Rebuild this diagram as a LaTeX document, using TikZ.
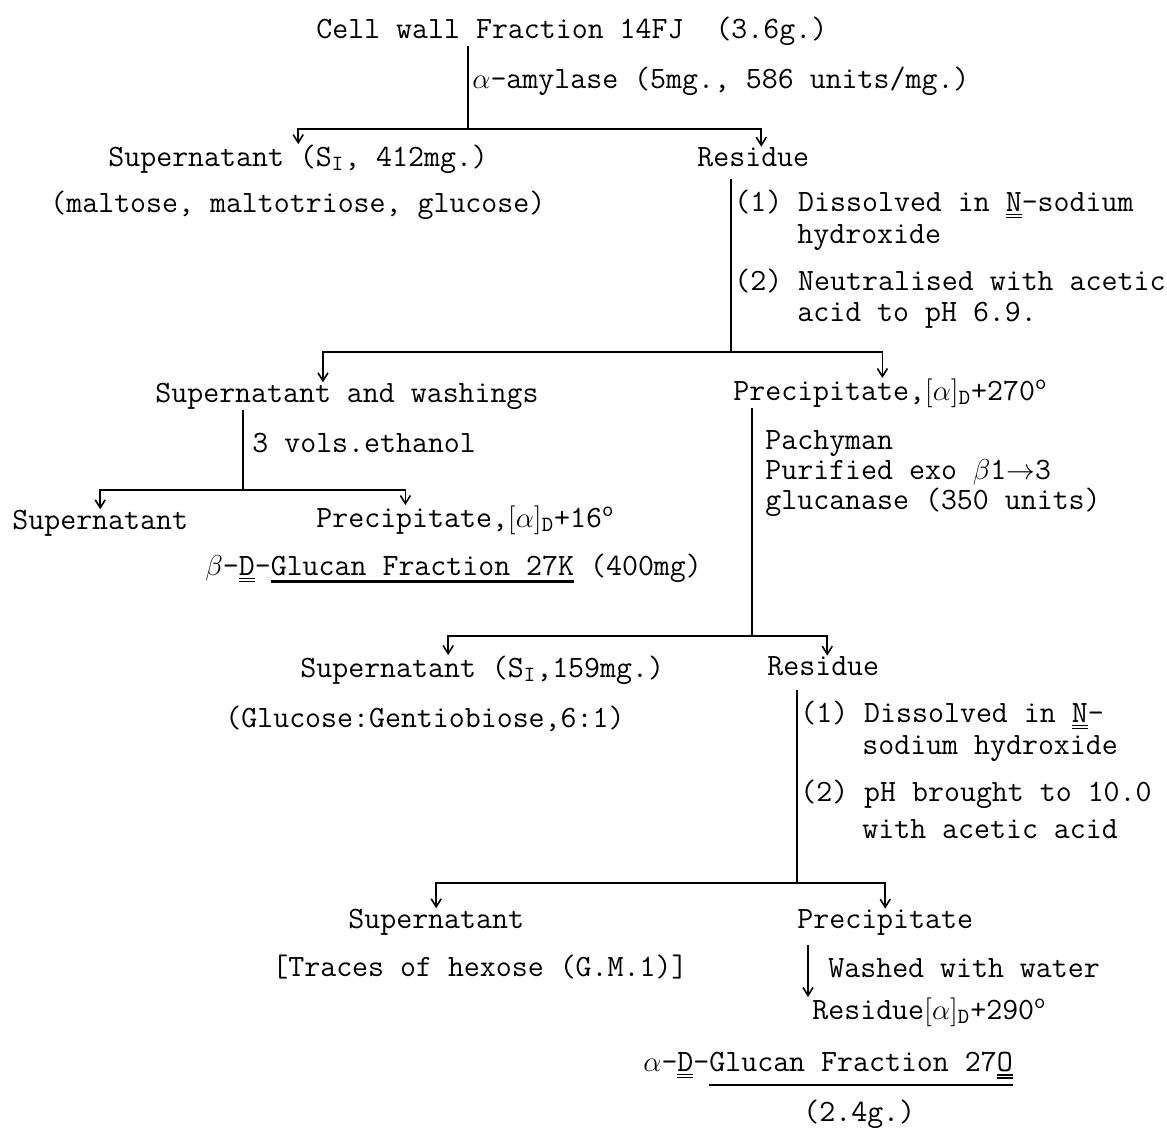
\documentclass[tikz,border=0pt]{standalone}
\usetikzlibrary{arrows.meta}

% typed flow sheet: one unit = one pixel of the scan
\tikzset{
  txt/.style={anchor=base west, inner sep=0pt, font=\fontsize{15.5}{16}\selectfont\ttfamily},
  link/.style={line width=0.8pt},
  drop/.style={link, -{Straight Barb[length=4pt,width=5pt]}},
}
\newcommand{\rot}[1]{$[\alpha]$\textsubscript{D}#1\textsuperscript{o}}
\newcommand{\ul}[1]{\leavevmode\vtop{\hbox{#1}\kern2.5pt\hrule height 1.1pt}}
\newcommand{\dul}[1]{\leavevmode\vtop{\hbox{#1}\kern1.5pt\hrule height 0.6pt\kern0.9pt\hrule height 0.6pt}}

\begin{document}
\begin{tikzpicture}[x=0.5pt, y=-0.5pt]

  \useasboundingbox (0,0) rectangle (1167,1136);

  % starting material
  \node[txt] (cell) at (316,38) {Cell wall Fraction 14FJ\ \ (3.6g.)};
  \node[txt] (amyl) at (472,88) {$\alpha$-amylase (5mg., 586 units/mg.)};

  % first split
  \node[txt] (sup1) at (108,166) {Supernatant (S\textsubscript{I}, 412mg.)};
  \node[txt] (res1) at (697,166) {Residue};
  \node[txt] (malt) at (50,212) {(maltose, maltotriose, glucose)};
  \node[txt] (s1a) at (734,211) {(1) Dissolved in \dul{N}-sodium};
  \node[txt] (s1b) at (797,243) {hydroxide};
  \node[txt] (s2a) at (734,290) {(2) Neutralised with acetic};
  \node[txt] (s2b) at (797,321) {acid to pH 6.9.};

  % second split
  \node[txt] (sw)  at (155,402) {Supernatant and washings};
  \node[txt] (pr2) at (733,400) {Precipitate,\rot{+270}};
  \node[txt] (eth) at (252,452) {3 vols.ethanol};
  \node[txt] (sup2) at (12,529) {Supernatant};
  \node[txt] (pr3) at (316,527) {Precipitate,\rot{+16}};
  \node[txt] (beta) at (205,575) {$\beta$-\dul{D}-\ul{Glucan Fraction 27K} (400mg)};
  \node[txt] (pa) at (765,449) {Pachyman};
  \node[txt] (pb) at (765,479) {Purified exo $\beta$1$\rightarrow$3};
  \node[txt] (pc) at (765,509) {glucanase (350 units)};

  % third split
  \node[txt] (sup3) at (300,677) {Supernatant (S\textsubscript{I},159mg.)};
  \node[txt] (res2) at (767,675) {Residue};
  \node[txt] (gluc) at (225,727) {(Glucose:Gentiobiose,6:1)};
  \node[txt] (t1a) at (800,722) {(1) Dissolved in \dul{N}-};
  \node[txt] (t1b) at (862,754) {sodium hydroxide};
  \node[txt] (t2a) at (800,801) {(2) pH brought to 10.0};
  \node[txt] (t2b) at (862,838) {with acetic acid};

  % last split
  \node[txt] (sup4) at (348,928) {Supernatant};
  \node[txt] (pr4) at (797,928) {Precipitate};
  \node[txt] (trace) at (272,976) {[Traces of hexose (G.M.1)]};
  \node[txt] (wash) at (828,977) {Washed with water};
  \node[txt] (res3) at (812,1019) {Residue\rot{+290}};
  \node[txt] (alpha) at (643,1071) {$\alpha$-\dul{D}-\ul{Glucan Fraction 27\dul{O}}};
  \node[txt] (yield) at (803,1121) {(2.4g.)};

  % junctions
  \coordinate (j1) at (468,129);
  \coordinate (j2) at (731,352);
  \coordinate (j3) at (243,490);
  \coordinate (j4) at (752,636);
  \coordinate (j5) at (797,883);
  \coordinate (wx) at (808,0);

  \draw[link] (cell.south -| j1) -- (j1);
  \draw[drop] (j1) -| (sup1.north);
  \draw[drop] (j1) -| ([xshift=4pt]res1.north);

  \draw[link, shorten <=6pt] (res1.south -| j2) -- (j2);
  \draw[drop] (j2) -| ([xshift=-12pt]sw.north);
  \draw[drop] (j2) -| ([xshift=-4pt]pr2.north);

  \draw[link] (sw.south -| j3) -- (j3);
  \draw[drop] (j3) -| (sup2.north);
  \draw[drop] (j3) -| ([xshift=-30pt]pr3.north);

  \draw[link] (pr2.south -| j4) -- (j4);
  \draw[drop] (j4) -| ([xshift=-17pt]sup3.north);
  \draw[drop] (j4) -| ([xshift=2pt]res2.north);

  \draw[link, shorten <=7pt] (res2.south -| j5) -- (j5);
  \draw[drop] (j5) -| (sup4.north);
  \draw[drop] (j5) -| (pr4.north);

  \draw[drop, shorten <=5pt] (pr4.south -| wx) -- (res3.north -| wx);

\end{tikzpicture}
\end{document}
